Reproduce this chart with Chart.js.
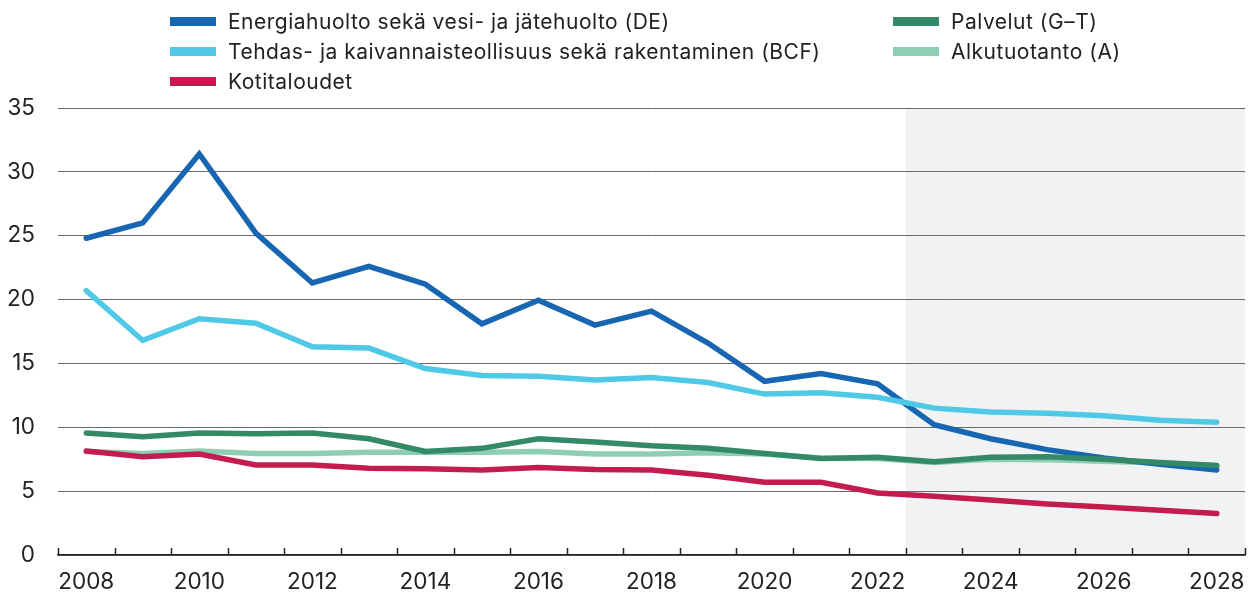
<!DOCTYPE html>
<html>
<head>
<meta charset="utf-8">
<script src="https://cdn.jsdelivr.net/npm/chart.js@4.4.1/dist/chart.umd.min.js"></script>
<style>
  html, body { margin: 0; padding: 0; background: #fff; }
  #wrap { position: relative; width: 1251px; height: 594px; }
  #legend { position: absolute; left: 0; top: 0; width: 1251px; height: 100px;
            font-family: Inter, 'Noto Sans', sans-serif; font-size: 21px; letter-spacing: 0.5px; color: #222; }
  .item { position: absolute; height: 30px; line-height: 30px; white-space: nowrap; }
  .sw { position: absolute; left: 0; top: 10px; width: 46px; height: 9px; }
  .lbl { position: absolute; left: 58px; top: 0; }
</style>
</head>
<body>
<div id="wrap">
  <canvas id="chart" width="1251" height="594"></canvas>
  <div id="legend"></div>
</div>
<script>
const years = ['2008','2009','2010','2011','2012','2013','2014','2015','2016','2017','2018',
               '2019','2020','2021','2022','2023','2024','2025','2026','2027','2028'];
const yTicks = [0, 5, 10, 15, 20, 25, 30, 35];
const forecastStart = '2023';

const energia = [24.8, 26.0, 31.4, 25.2, 21.3, 22.6, 21.2, 18.1, 19.95, 18.0, 19.1,
                 16.6, 13.6, 14.2, 13.4, 10.2, 9.1, 8.25, 7.6, 7.1, 6.65];
const tehdas = [20.7, 16.8, 18.5, 18.15, 16.3, 16.2, 14.6, 14.05, 14.0, 13.7, 13.9,
                13.5, 12.6, 12.7, 12.35, 11.5, 11.2, 11.1, 10.9, 10.55, 10.4];
const kotitaloudet = [8.15, 7.7, 7.9, 7.05, 7.05, 6.8, 6.75, 6.65, 6.85, 6.7, 6.65,
                      6.25, 5.7, 5.7, 4.85, 4.6, 4.3, 4.0, 3.75, 3.5, 3.25];
const palvelut = [9.55, 9.25, 9.55, 9.5, 9.55, 9.1, 8.1, 8.35, 9.1, 8.85, 8.55,
                  8.35, 7.95, 7.55, 7.65, 7.3, 7.65, 7.7, 7.5, 7.25, 7.0];
const alkutuotanto = [8.1, 7.95, 8.15, 7.95, 7.95, 8.05, 8.05, 8.05, 8.1, 7.9, 7.9,
                      8.0, 7.9, 7.6, 7.55, 7.25, 7.5, 7.45, 7.35, 7.2, 7.0];

const series = [
  { label: 'Energiahuolto sekä vesi- ja jätehuolto (DE)', data: energia, color: '#1766b1', order: 3, col: 0, row: 0 },
  { label: 'Tehdas- ja kaivannaisteollisuus sekä rakentaminen (BCF)', data: tehdas, color: '#4fc9e6', order: 2, col: 0, row: 1 },
  { label: 'Kotitaloudet', data: kotitaloudet, color: '#c41c4f', order: 0, col: 0, row: 2 },
  { label: 'Palvelut (G\u2013T)', data: palvelut, color: '#348966', order: 1, col: 1, row: 0 },
  { label: 'Alkutuotanto (A)', data: alkutuotanto, color: '#8ecfb4', order: 4, col: 1, row: 1 }
];

// legend
const legend = document.getElementById('legend');
const colX = [170, 893];
series.forEach(s => {
  const d = document.createElement('div');
  d.className = 'item';
  d.style.left = colX[s.col] + 'px';
  d.style.top = (7 + s.row * 30) + 'px';
  d.innerHTML = '<span class="sw" style="background:' + s.color + '"></span><span class="lbl"></span>';
  d.querySelector('.lbl').textContent = s.label;
  legend.appendChild(d);
});

const font = { family: "Inter, 'Noto Sans', sans-serif", size: 22.5 };

const forecastShade = {
  id: 'forecastShade',
  beforeDraw(chart) {
    const { ctx, chartArea, scales } = chart;
    const i = years.indexOf(forecastStart);
    const x0 = scales.x.getPixelForValue(i - 0.5);
    ctx.save();
    ctx.fillStyle = '#f1f2f4';
    ctx.fillRect(x0, chartArea.top, chartArea.right - x0, chartArea.bottom - chartArea.top);
    ctx.restore();
  },
  afterDatasetsDraw(chart) {
    const { ctx, chartArea, scales } = chart;
    ctx.save();
    ctx.strokeStyle = '#222';
    ctx.lineWidth = 1.5;
    ctx.beginPath();
    for (let i = 0; i <= years.length; i++) {
      const x = Math.round(scales.x.getPixelForValue(i - 0.5)) + 0.5;
      ctx.moveTo(x, chartArea.bottom);
      ctx.lineTo(x, chartArea.bottom - 7);
    }
    ctx.stroke();
    ctx.restore();
  }
};

new Chart(document.getElementById('chart'), {
  type: 'line',
  data: {
    labels: years,
    datasets: series.map(s => ({
      label: s.label,
      data: s.data,
      borderColor: s.color,
      backgroundColor: s.color,
      borderWidth: 5.5,
      borderCapStyle: 'round',
      pointRadius: 0,
      tension: 0,
      order: s.order
    }))
  },
  options: {
    responsive: false,
    animation: false,
    layout: { padding: { top: 108, right: 6, left: 0, bottom: 0 } },
    plugins: { legend: { display: false }, tooltip: { enabled: false } },
    scales: {
      x: {
        offset: true,
        afterFit: axis => { axis.height = 39; axis.paddingLeft = 0; axis.paddingRight = 0; },
        grid: { display: false, drawTicks: false },
        border: { display: true, color: '#222', width: 1.5 },
        ticks: {
          autoSkip: false,
          maxRotation: 0,
          padding: 14,
          color: '#222',
          font: font,
          callback: function (v, i) { return i % 2 === 0 ? years[i] : ''; }
        }
      },
      y: {
        min: 0,
        max: 35,
        afterBuildTicks: axis => { axis.ticks = yTicks.map(v => ({ value: v })); },
        afterFit: axis => { axis.width = 58; },
        grid: { color: '#6a6a6a', lineWidth: 1, drawTicks: false },
        border: { display: false },
        ticks: { padding: 23, color: '#222', font: font }
      }
    }
  },
  plugins: [forecastShade]
});
</script>
</body>
</html>
